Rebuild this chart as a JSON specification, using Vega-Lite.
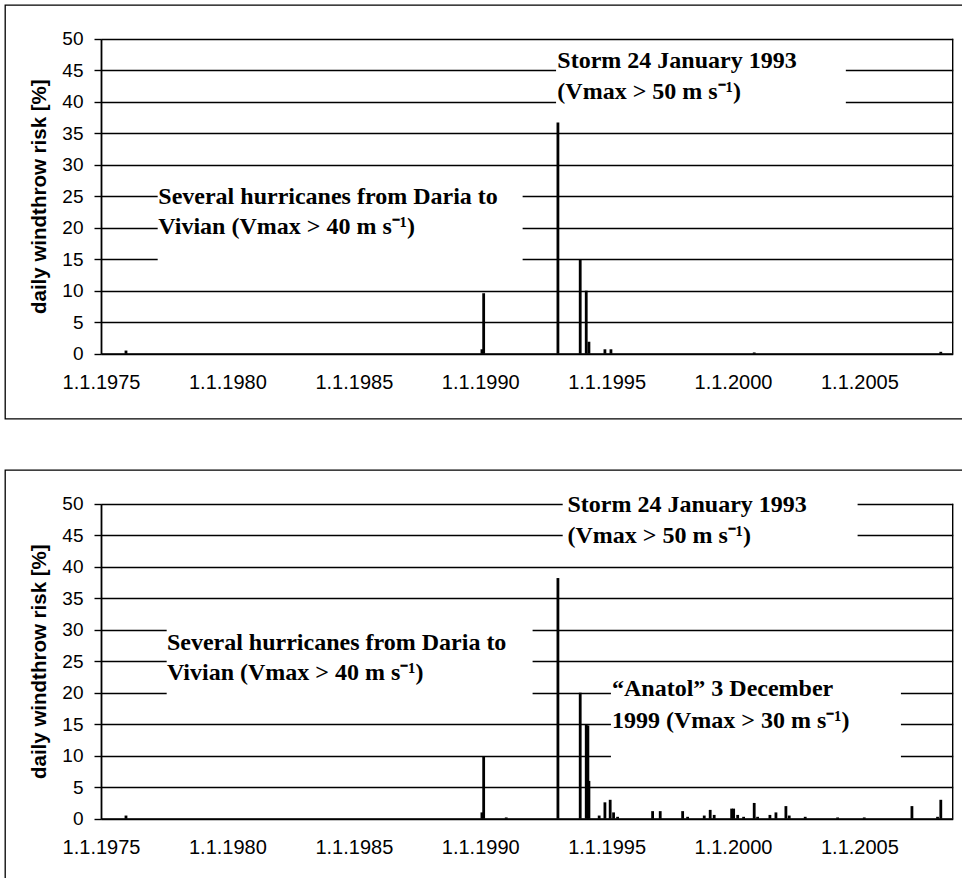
{
  "$schema": "https://vega.github.io/schema/vega-lite/v6.json",
  "padding": {"left": 4, "top": 4, "right": 0, "bottom": 0},
  "spacing": 49,
  "config": {
    "view": {"stroke": "black", "strokeWidth": 1.3},
    "font": "Liberation Sans",
    "axis": {"labelColor": "black", "titleColor": "black", "domainColor": "black", "tickColor": "black"}
  },
  "datasets": {
    "risk": [
      {"panel": "top", "date": "1975-12-28", "value": 0.5},
      {"panel": "top", "date": "1990-01-26", "value": 0.7},
      {"panel": "top", "date": "1990-02-20", "value": 9.6},
      {"panel": "top", "date": "1993-01-28", "value": 36.7},
      {"panel": "top", "date": "1993-12-16", "value": 14.9},
      {"panel": "top", "date": "1994-03-13", "value": 10.0},
      {"panel": "top", "date": "1994-04-21", "value": 1.9},
      {"panel": "top", "date": "1994-12-08", "value": 0.7},
      {"panel": "top", "date": "1995-03-05", "value": 0.7},
      {"panel": "top", "date": "2000-11-03", "value": 0.2},
      {"panel": "top", "date": "2008-03-22", "value": 0.3},
      {"panel": "bottom", "date": "1975-12-28", "value": 0.5},
      {"panel": "bottom", "date": "1990-01-26", "value": 1.0},
      {"panel": "bottom", "date": "1990-02-20", "value": 9.8},
      {"panel": "bottom", "date": "1991-01-12", "value": 0.2},
      {"panel": "bottom", "date": "1993-01-28", "value": 38.2},
      {"panel": "bottom", "date": "1993-12-16", "value": 20.0},
      {"panel": "bottom", "date": "1994-03-13", "value": 15.0},
      {"panel": "bottom", "date": "1994-04-06", "value": 14.8},
      {"panel": "bottom", "date": "1994-04-21", "value": 6.0},
      {"panel": "bottom", "date": "1994-09-16", "value": 0.5},
      {"panel": "bottom", "date": "1994-12-08", "value": 2.6},
      {"panel": "bottom", "date": "1995-02-22", "value": 3.0},
      {"panel": "bottom", "date": "1995-04-12", "value": 1.0},
      {"panel": "bottom", "date": "1995-06-09", "value": 0.3},
      {"panel": "bottom", "date": "1996-10-27", "value": 1.2},
      {"panel": "bottom", "date": "1997-02-14", "value": 1.2},
      {"panel": "bottom", "date": "1998-01-04", "value": 1.2},
      {"panel": "bottom", "date": "1998-03-17", "value": 0.3},
      {"panel": "bottom", "date": "1998-11-12", "value": 0.5},
      {"panel": "bottom", "date": "1999-02-06", "value": 1.4},
      {"panel": "bottom", "date": "1999-04-05", "value": 0.6},
      {"panel": "bottom", "date": "1999-12-13", "value": 1.6},
      {"panel": "bottom", "date": "2000-01-11", "value": 1.6},
      {"panel": "bottom", "date": "2000-03-09", "value": 0.6},
      {"panel": "bottom", "date": "2000-06-03", "value": 0.3},
      {"panel": "bottom", "date": "2000-11-03", "value": 2.5},
      {"panel": "bottom", "date": "2000-12-22", "value": 0.3},
      {"panel": "bottom", "date": "2001-06-18", "value": 0.6},
      {"panel": "bottom", "date": "2001-09-13", "value": 1.0},
      {"panel": "bottom", "date": "2002-02-04", "value": 2.0},
      {"panel": "bottom", "date": "2002-03-24", "value": 0.5},
      {"panel": "bottom", "date": "2002-11-10", "value": 0.3},
      {"panel": "bottom", "date": "2004-02-21", "value": 0.2},
      {"panel": "bottom", "date": "2005-03-12", "value": 0.2},
      {"panel": "bottom", "date": "2007-01-30", "value": 2.0},
      {"panel": "bottom", "date": "2008-02-04", "value": 0.3},
      {"panel": "bottom", "date": "2008-03-22", "value": 3.0}
    ],
    "boxes": [
      {"panel": "top", "start": "1993-01-01", "end": "2004-06-19", "lo": 38, "hi": 48.5},
      {"panel": "top", "start": "1977-03-30", "end": "1991-09-06", "lo": 12, "hi": 28},
      {"panel": "bottom", "start": "1993-04-07", "end": "2004-12-06", "lo": 41.5, "hi": 51},
      {"panel": "bottom", "start": "1977-08-07", "end": "1992-01-28", "lo": 16.5, "hi": 33},
      {"panel": "bottom", "start": "1995-03-05", "end": "2006-08-24", "lo": 6.5, "hi": 23.5}
    ],
    "notes": [
      {"panel": "top", "date": "1993-01-20", "value": 45.4, "text": "Storm 24 January 1993"},
      {"panel": "top", "date": "1993-01-20", "value": 40.48, "text": "(Vmax > 50 m s⁻¹)"},
      {"panel": "top", "date": "1977-04-08", "value": 23.76, "text": "Several hurricanes from Daria to"},
      {"panel": "top", "date": "1977-04-08", "value": 18.95, "text": "Vivian (Vmax > 40 m s⁻¹)"},
      {"panel": "bottom", "date": "1993-06-15", "value": 48.68, "text": "Storm 24 January 1993"},
      {"panel": "bottom", "date": "1993-06-15", "value": 43.8, "text": "(Vmax > 50 m s⁻¹)"},
      {"panel": "bottom", "date": "1977-08-10", "value": 26.85, "text": "Several hurricanes from Daria to"},
      {"panel": "bottom", "date": "1977-08-10", "value": 22.08, "text": "Vivian (Vmax > 40 m s⁻¹)"},
      {"panel": "bottom", "date": "1995-03-20", "value": 19.45, "text": "“Anatol” 3 December"},
      {"panel": "bottom", "date": "1995-03-20", "value": 14.41, "text": "1999 (Vmax > 30 m s⁻¹)"}
    ]
  },
  "vconcat": [
    {
      "width": 958,
      "height": 413.7,
      "layer": [
        {
          "data": {"name": "risk"},
          "transform": [{"filter": "datum.panel === 'top'"}],
          "mark": {"type": "rule", "strokeWidth": 2.8, "color": "black"},
          "encoding": {
            "x": {
              "field": "date", "type": "temporal",
              "scale": {"type": "utc", "domain": [{"year": 1975, "month": 1, "date": 1, "utc": true}, {"year": 2008, "month": 9, "date": 10, "utc": true}], "range": [96, 947.7], "nice": false},
              "axis": {
                "title": null, "orient": "bottom", "offset": -65, "ticks": false, "grid": false,
                "values": [{"year": 1975, "month": 1, "date": 1, "utc": true}, {"year": 1980, "month": 1, "date": 1, "utc": true}, {"year": 1985, "month": 1, "date": 1, "utc": true}, {"year": 1990, "month": 1, "date": 1, "utc": true}, {"year": 1995, "month": 1, "date": 1, "utc": true}, {"year": 2000, "month": 1, "date": 1, "utc": true}, {"year": 2005, "month": 1, "date": 1, "utc": true}],
                "labelExpr": "'1.1.' + utcFormat(datum.value, '%Y')",
                "labelFont": "Liberation Sans", "labelFontSize": 20, "labelPadding": 19,
                "labelFlush": false, "labelOverlap": false, "domainWidth": 1.8
              }
            },
            "y": {
              "field": "value", "type": "quantitative",
              "scale": {"domain": [0, 50], "range": [348.7, 33.7], "nice": false, "zero": true},
              "axis": {
                "title": "daily windthrow risk [%]", "orient": "left", "offset": -96,
                "values": [0, 5, 10, 15, 20, 25, 30, 35, 40, 45, 50],
                "grid": true, "gridColor": "black", "gridWidth": 1.4, "gridOpacity": 1,
                "domainWidth": 1.8, "tickSize": 7, "tickWidth": 1.4,
                "labelFont": "Liberation Sans", "labelFontSize": 19, "labelPadding": 11,
                "titleFont": "Liberation Sans", "titleFontSize": 20.5, "titleFontWeight": "bold", "titlePadding": 12
              }
            },
            "y2": {"datum": 0}
          }
        },
        {
          "data": {"name": "boxes"},
          "transform": [{"filter": "datum.panel === 'top'"}],
          "mark": {"type": "rect", "color": "white", "opacity": 1},
          "encoding": {
            "x": {"field": "start", "type": "temporal"},
            "x2": {"field": "end"},
            "y": {"field": "lo", "type": "quantitative"},
            "y2": {"field": "hi"}
          }
        },
        {
          "data": {"name": "notes"},
          "transform": [{"filter": "datum.panel === 'top'"}],
          "mark": {"type": "text", "align": "left", "baseline": "alphabetic", "font": "Liberation Serif", "fontWeight": "bold", "fontSize": 24, "color": "black"},
          "encoding": {
            "x": {"field": "date", "type": "temporal"},
            "y": {"field": "value", "type": "quantitative"},
            "text": {"field": "text"}
          }
        },
        {
          "data": {"values": [{}]},
          "mark": {"type": "rule", "strokeWidth": 1.4, "color": "black"},
          "encoding": {
            "x": {"datum": {"year": 2008, "month": 9, "date": 10, "utc": true}, "type": "temporal"},
            "y": {"datum": 0, "type": "quantitative"},
            "y2": {"datum": 50}
          }
        }
      ]
    },
    {
      "width": 958,
      "height": 413.7,
      "layer": [
        {
          "data": {"name": "risk"},
          "transform": [{"filter": "datum.panel === 'bottom'"}],
          "mark": {"type": "rule", "strokeWidth": 2.8, "color": "black"},
          "encoding": {
            "x": {
              "field": "date", "type": "temporal",
              "scale": {"type": "utc", "domain": [{"year": 1975, "month": 1, "date": 1, "utc": true}, {"year": 2008, "month": 9, "date": 10, "utc": true}], "range": [96, 947.7], "nice": false},
              "axis": {
                "title": null, "orient": "bottom", "offset": -65, "ticks": false, "grid": false,
                "values": [{"year": 1975, "month": 1, "date": 1, "utc": true}, {"year": 1980, "month": 1, "date": 1, "utc": true}, {"year": 1985, "month": 1, "date": 1, "utc": true}, {"year": 1990, "month": 1, "date": 1, "utc": true}, {"year": 1995, "month": 1, "date": 1, "utc": true}, {"year": 2000, "month": 1, "date": 1, "utc": true}, {"year": 2005, "month": 1, "date": 1, "utc": true}],
                "labelExpr": "'1.1.' + utcFormat(datum.value, '%Y')",
                "labelFont": "Liberation Sans", "labelFontSize": 20, "labelPadding": 19,
                "labelFlush": false, "labelOverlap": false, "domainWidth": 1.8
              }
            },
            "y": {
              "field": "value", "type": "quantitative",
              "scale": {"domain": [0, 50], "range": [348.7, 33.7], "nice": false, "zero": true},
              "axis": {
                "title": "daily windthrow risk [%]", "orient": "left", "offset": -96,
                "values": [0, 5, 10, 15, 20, 25, 30, 35, 40, 45, 50],
                "grid": true, "gridColor": "black", "gridWidth": 1.4, "gridOpacity": 1,
                "domainWidth": 1.8, "tickSize": 7, "tickWidth": 1.4,
                "labelFont": "Liberation Sans", "labelFontSize": 19, "labelPadding": 11,
                "titleFont": "Liberation Sans", "titleFontSize": 20.5, "titleFontWeight": "bold", "titlePadding": 12
              }
            },
            "y2": {"datum": 0}
          }
        },
        {
          "data": {"name": "boxes"},
          "transform": [{"filter": "datum.panel === 'bottom'"}],
          "mark": {"type": "rect", "color": "white", "opacity": 1},
          "encoding": {
            "x": {"field": "start", "type": "temporal"},
            "x2": {"field": "end"},
            "y": {"field": "lo", "type": "quantitative"},
            "y2": {"field": "hi"}
          }
        },
        {
          "data": {"name": "notes"},
          "transform": [{"filter": "datum.panel === 'bottom'"}],
          "mark": {"type": "text", "align": "left", "baseline": "alphabetic", "font": "Liberation Serif", "fontWeight": "bold", "fontSize": 24, "color": "black"},
          "encoding": {
            "x": {"field": "date", "type": "temporal"},
            "y": {"field": "value", "type": "quantitative"},
            "text": {"field": "text"}
          }
        },
        {
          "data": {"values": [{}]},
          "mark": {"type": "rule", "strokeWidth": 1.4, "color": "black"},
          "encoding": {
            "x": {"datum": {"year": 2008, "month": 9, "date": 10, "utc": true}, "type": "temporal"},
            "y": {"datum": 0, "type": "quantitative"},
            "y2": {"datum": 50}
          }
        }
      ]
    }
  ]
}
